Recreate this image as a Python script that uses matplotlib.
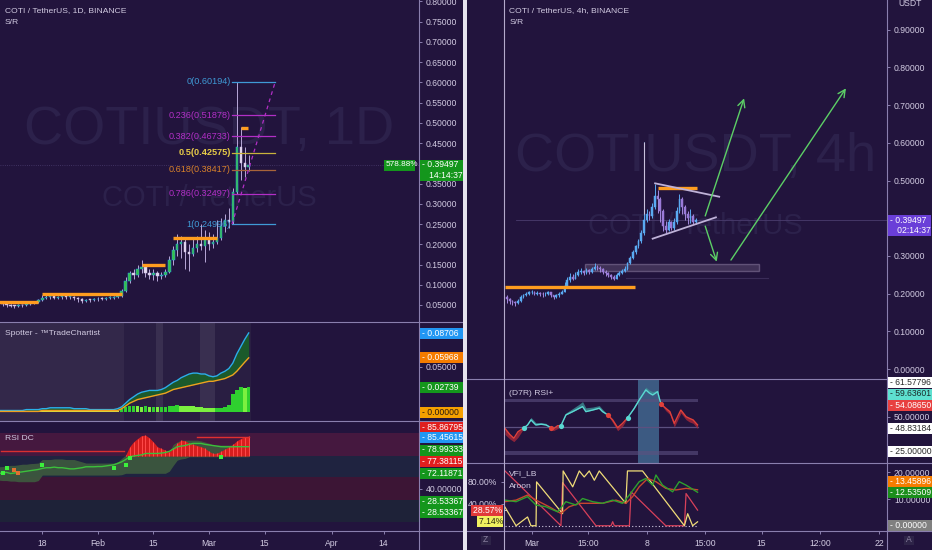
#!/usr/bin/env python3

import numpy as np
import matplotlib
matplotlib.use('Agg')
import matplotlib.pyplot as plt
from matplotlib.patches import Rectangle
from matplotlib.lines import Line2D

# ---------------------------------------------------------#
# Left chart: COTI / TetherUS, 1D  (x = day of year 2021)  #
# ---------------------------------------------------------#
days_1d = np.arange(6, 70)
open_first_1d = 0.058
close_1d = [0.055, 0.052, 0.050, 0.048, 0.047, 0.050, 0.049, 0.052, 0.055, 0.057, 0.062,
            0.068, 0.070, 0.072, 0.068, 0.070, 0.071, 0.069, 0.070, 0.068, 0.065,
            0.060, 0.063, 0.062, 0.064, 0.066, 0.065, 0.067, 0.068, 0.070, 0.072,
            0.085, 0.110, 0.130, 0.125, 0.140,
            0.145, 0.130, 0.125, 0.128, 0.122, 0.125, 0.132,
            0.160, 0.185, 0.200,
            0.205, 0.180, 0.175, 0.190, 0.200, 0.195, 0.210, 0.200, 0.205, 0.215,
            0.245, 0.260, 0.255, 0.330, 0.440, 0.400, 0.390, 0.395]
high_1d = [0.060, 0.057, 0.055, 0.052, 0.050, 0.053, 0.052, 0.055, 0.058, 0.060, 0.065,
           0.074, 0.075, 0.076, 0.074, 0.073, 0.074, 0.073, 0.073, 0.072, 0.070,
           0.067, 0.066, 0.066, 0.067, 0.069, 0.069, 0.070, 0.071, 0.073, 0.076,
           0.090, 0.118, 0.135, 0.138, 0.150,
           0.160, 0.150, 0.140, 0.138, 0.135, 0.132, 0.140,
           0.170, 0.195, 0.225,
           0.220, 0.215, 0.200, 0.215, 0.220, 0.250, 0.235, 0.230, 0.225, 0.260,
           0.265, 0.275, 0.290, 0.340, 0.602, 0.490, 0.440, 0.420]
low_1d = [0.050, 0.048, 0.045, 0.044, 0.043, 0.045, 0.046, 0.048, 0.051, 0.053, 0.056,
          0.060, 0.064, 0.066, 0.064, 0.065, 0.066, 0.065, 0.066, 0.062, 0.058,
          0.055, 0.057, 0.058, 0.060, 0.061, 0.062, 0.063, 0.064, 0.066, 0.068,
          0.070, 0.082, 0.105, 0.115, 0.120,
          0.130, 0.120, 0.115, 0.112, 0.110, 0.115, 0.118,
          0.128, 0.150, 0.170,
          0.165, 0.140, 0.135, 0.170, 0.180, 0.185, 0.155, 0.185, 0.190, 0.200,
          0.210, 0.230, 0.240, 0.250, 0.325, 0.360, 0.365, 0.380]

sr_1d = [(6, 16, 0.057), (17, 37, 0.0764), (42, 48, 0.149), (50, 61, 0.216), (67, 68.8, 0.487)]
fib_levels = ['0', '0.236', '0.382', '0.5', '0.618', '0.786', '1']
fib_prices = [0.60194, 0.51878, 0.46733, 0.42575, 0.38417, 0.32497, 0.24996]
fib_start, fib_end = 64.8, 75.7
last_price = 0.39497

date_ticks_1d = [17, 31, 45, 59, 73, 90, 103]
date_labels_1d = ['18', 'Feb', '15', 'Mar', '15', 'Apr', '14']

# Spotter - TradeChartist
spot_upper = [0.002, 0.002, 0.002, 0.002, 0.002, 0.002, 0.002, 0.003, 0.003, 0.003, 0.003,
              0.004, 0.004, 0.005, 0.005, 0.005, 0.005, 0.005, 0.005, 0.004, 0.004,
              0.004, 0.004, 0.003, 0.003, 0.003, 0.003, 0.003, 0.003, 0.003, 0.004,
              0.006, 0.010, 0.014, 0.017, 0.020,
              0.022, 0.023, 0.024, 0.024, 0.024, 0.025, 0.027,
              0.030, 0.033, 0.035,
              0.038, 0.040, 0.042, 0.043, 0.043, 0.042, 0.042, 0.040, 0.039, 0.040,
              0.043, 0.045, 0.048, 0.054, 0.064, 0.072, 0.080, 0.087]
spot_lower = [0.001, 0.001, 0.001, 0.001, 0.001, 0.001, 0.001, 0.001, 0.001, 0.001, 0.001,
              0.002, 0.002, 0.002, 0.002, 0.002, 0.002, 0.002, 0.002, 0.002, 0.002,
              0.002, 0.002, 0.002, 0.002, 0.002, 0.002, 0.002, 0.002, 0.002, 0.002,
              0.004, 0.007, 0.010, 0.012, 0.014,
              0.015, 0.016, 0.017, 0.018, 0.019, 0.020, 0.021,
              0.023, 0.025, 0.026,
              0.027, 0.028, 0.029, 0.030, 0.031, 0.032, 0.033, 0.034, 0.034, 0.035,
              0.036, 0.037, 0.039, 0.041, 0.045, 0.050, 0.055, 0.0597]
spot_hist = [0.001, 0.001, 0.001, 0.0015, 0.0015, 0.001, 0.001, 0.0015, 0.002, 0.002, 0.002,
             0.002, 0.002, 0.0025, 0.0025, 0.002, 0.002, 0.0015, 0.0015, 0.001, 0.001,
             0.001, 0.001, 0.001, 0.001, 0.001, 0.001, 0.001, 0.001, 0.0015, 0.0015,
             0.004, 0.006, 0.0065, 0.007, 0.0065,
             0.006, 0.0065, 0.006, 0.006, 0.0055, 0.0055, 0.006,
             0.0065, 0.007, 0.0075,
             0.0073, 0.007, 0.0068, 0.0065, 0.006, 0.0055, 0.005, 0.0045, 0.0044, 0.0045,
             0.005, 0.006, 0.008, 0.020, 0.025, 0.028, 0.027, 0.0274]
spot_spans = [(6.0, 37.6, '#33284a'), (37.6, 69.6, '#291e42'), (45.6, 47.5, '#392f50'), (56.7, 60.5, '#392f50')]

# RSI DC
rsi_dc_upper = [58.8, 59, 59.5, 60, 60, 60.5, 61, 61, 61.5, 61.7, 62,
                65, 65, 65, 65.5, 65.5, 65.5, 65, 65, 65, 64,
                63, 62, 62, 62, 62, 62, 62, 62, 62, 63,
                66, 68.8, 68.8, 68.8, 68.8,
                68.8, 68.8, 68.8, 68.8, 68.8, 68.8, 68.8,
                72, 78, 80.2,
                81.6, 81.6, 81.6, 81.6, 81.6, 81, 80, 79, 77.4, 77.4,
                77.4, 77.4, 77.4, 77.4, 77.4, 77.4, 77.4, 77.4]
rsi_dc_lower = [47.4, 47, 47, 46.5, 46.5, 46, 46, 46, 46, 46, 47,
                51.7, 51.7, 51.7, 51.7, 51.7, 51.7, 51.7, 51.7, 51.7, 51.7,
                51.7, 51.7, 51.7, 51.7, 51.7, 51.7, 51.7, 51.7, 51.7, 51.7,
                52, 53.2, 53.2, 53.2, 53.2,
                53.2, 53.2, 53.2, 53.2, 53.2, 53.2, 53.2,
                55, 60, 64.5,
                65.5, 66, 67.4, 67.4, 67.4, 67.4, 67.4, 67.4, 67.4, 67.4,
                67.4, 67.4, 67.4, 67.4, 67.4, 67.4, 67.4, 67.4]
rsi_dc_mid = [53, 53.5, 54, 53, 53.5, 54, 54.5, 55, 55.5, 56, 56.5,
              57.4, 58, 58, 58.5, 58, 58, 57.5, 57, 57, 57.5,
              58, 58.8, 58.8, 58.8, 59, 59, 59.5, 60, 60.5, 61.7,
              63, 65, 67.4, 68, 68.5,
              69, 70.2, 70.2, 70.2, 70.2, 70.5, 71,
              72, 74, 75.9,
              76.5, 77, 78, 78.8, 78.8, 78.8, 78, 77.5, 77, 76.5,
              76, 75.9, 75.9, 75.9, 76, 76, 76, 76]
rsi_dc_red_days = np.arange(38, 70)
rsi_dc_red = [68.8, 76, 80.2, 83, 85.5, 85.9, 83.5, 80, 76, 74.5, 73, 71.6, 75, 79, 81.6, 81,
              79, 78, 77, 76, 74.5, 72, 70.2, 70.5, 72, 74, 75.9, 78, 81, 83, 84.5, 85]
rsi_dc_green_pts = ([7, 8, 17, 35, 38, 39, 62], [53.4, 57.4, 60.3, 57.4, 60.3, 66, 67.4])
rsi_dc_orange_pts = ([10, 11], [56, 53.4])
rsi_dc_bands = [(68.0, 87.6, '#45183f'), (50.0, 68.0, '#1f2340'), (30.3, 50.0, '#3c1535'), (11.5, 30.3, '#1e2238')]

# ---------------------------------------------------------#
# Right chart: COTI / TetherUS, 4h  (x = 4h bars from Mar 1)#
# ---------------------------------------------------------#
bars_4h = np.arange(-9, 61)
open_first_4h = 0.190
close_4h = [0.185, 0.180, 0.178, 0.175,
            0.180, 0.190, 0.195, 0.200, 0.203,
            0.205, 0.200, 0.202, 0.200, 0.198, 0.200, 0.203, 0.195, 0.190, 0.195,
            0.200, 0.205, 0.220, 0.235,
            0.245, 0.240, 0.250, 0.258, 0.260, 0.255,
            0.262, 0.258, 0.265, 0.270, 0.268,
            0.265, 0.258, 0.255, 0.250, 0.245, 0.240, 0.250,
            0.255, 0.260, 0.265, 0.280,
            0.295, 0.310, 0.325, 0.340, 0.360,
            0.395, 0.410, 0.405, 0.430,
            0.460, 0.450, 0.420,
            0.380, 0.370, 0.390, 0.375, 0.390,
            0.420, 0.450, 0.430, 0.410,
            0.400, 0.405, 0.390, 0.395]
high_4h = [0.195, 0.188, 0.183, 0.180,
           0.185, 0.195, 0.200, 0.205, 0.208,
           0.210, 0.207, 0.206, 0.205, 0.203, 0.204, 0.207, 0.205, 0.196, 0.199,
           0.204, 0.210, 0.230, 0.245,
           0.255, 0.252, 0.258, 0.265, 0.268, 0.262,
           0.268, 0.266, 0.270, 0.280, 0.276,
           0.272, 0.268, 0.262, 0.258, 0.252, 0.250, 0.255,
           0.260, 0.265, 0.272, 0.285,
           0.300, 0.315, 0.330, 0.345, 0.368,
           0.603, 0.425, 0.420, 0.440,
           0.492, 0.475, 0.455,
           0.425, 0.392, 0.398, 0.392, 0.400,
           0.430, 0.465, 0.455, 0.435,
           0.420, 0.425, 0.410, 0.400]
low_4h = [0.175, 0.172, 0.170, 0.168,
          0.172, 0.178, 0.188, 0.193, 0.197,
          0.198, 0.196, 0.195, 0.194, 0.192, 0.194, 0.195, 0.190, 0.185, 0.188,
          0.192, 0.198, 0.203, 0.218,
          0.232, 0.235, 0.238, 0.248, 0.252, 0.250,
          0.252, 0.252, 0.255, 0.262, 0.262,
          0.258, 0.252, 0.248, 0.245, 0.238, 0.235, 0.238,
          0.248, 0.252, 0.258, 0.262,
          0.278, 0.292, 0.305, 0.322, 0.335,
          0.355, 0.390, 0.395, 0.400,
          0.425, 0.415, 0.390,
          0.365, 0.360, 0.365, 0.368, 0.370,
          0.385, 0.415, 0.412, 0.395,
          0.385, 0.388, 0.385, 0.385]

sr_4h = [(-9.75, 37.8, 0.2166), (46.2, 60.3, 0.481)]
tri_upper = ([45.1, 68.5], [0.4925, 0.457])
tri_lower = ([44.2, 67.3], [0.3457, 0.4023])
zone_4h = (19.5, 83.1, 0.2607, 0.2785)
arrows_4h = [((63.4, 0.406), (77.6, 0.718)),
             ((63.4, 0.379), (67.6, 0.2847)),
             ((72.8, 0.289), (114.8, 0.7445))]

date_ticks_4h = [0, 20.7, 42, 63.4, 84, 105.4, 127]
date_labels_4h = ['Mar', '15:00', '8', '15:00', '15', '12:00', '22']

# (D7R) RSI+
rsi_bars = [-9.75, -8, -6.5, -5, -2.7, -1.5, -0.25, 1.5, 3.5, 5.2, 7.05, 7.9, 9.5, 10.7, 12.5,
            15, 17.4, 18.6, 19.8, 22.3, 24.7, 25.9, 27.8, 29.6, 31.4, 33.2, 35.05, 37.5, 39.3,
            40.5, 41.7, 43, 44.2, 46, 47.2, 49, 50.5, 52.1, 53.9, 54.5, 56.4, 57.6, 59, 60.6]
rsi_vals = [42.1, 38, 35.4, 39.8, 42.6, 44.4, 47.8, 44.4, 44.9, 44.4, 42.6, 41.7, 43.9, 43.9, 51.2,
            53.4, 55.7, 56.8, 53.4, 54.5, 55.7, 53.4, 51.2, 47.8, 42.6, 45.5, 49.3, 55.7, 61.3,
            64.7, 68.1, 66.0, 64.7, 66.9, 58.6, 55.7, 53.4, 45.5, 52.3, 54.5, 50.0, 48.9, 47.8, 44.4]
rsi_ext = [38, 35, 33.1, 36, 42.6, 45.5, 49.5, 46, 46, 45.5, 42.6, 40.5, 42, 43.9, 52.5,
           55.5, 58.5, 60.2, 56, 56.5, 57.5, 55, 51.2, 46, 40.5, 43.5, 49.3, 57.5, 63,
           66.5, 70, 68, 67, 68, 58.6, 54, 51.5, 43, 50, 52.5, 48, 46.5, 45.5, 42]
rsi_turns = [-9.75, -2.7, 7.05, 10.7, 27.8, 35.05, 47.2, 60.6]
rsi_turn_up = [False, True, False, True, False, True, False]
rsi_highlight = (38.7, 46.6)

# VFI_LB / Aroon
aroon_up_x = [-9.75, -5.7, -1.5, -0.25, 1.6, 1.8, 11.3, 11.5, 15, 17.4, 19.2, 21.05, 22.9, 24.7,
              34.4, 35.0, 40.5, 55.8, 57.0, 58.8, 60.6]
aroon_up = [34, 0, 16, 0, 0, 80, 22, 100, 71, 100, 89, 100, 83, 100,
            40.7, 100, 100, 0, 22, 0, 7.14]
aroon_dn_x = [-9.75, 10.7, 11.3, 23.5, 29.0, 29.6, 30.2, 35.7, 36.3, 49.0, 55.8, 56.4, 60.6]
aroon_dn = [100, 0, 78.8, 0, 0, 7.3, 0, 0, 61.9, 0, 0, 58.8, 28.57]
vfi_x = [-9.75, -5.7, -1.5, 1.6, 5.2, 9.5, 12.5, 16.2, 18.6, 22.3, 25.9, 29.6, 33.2, 35.7,
         39.3, 41.7, 44.2, 45.4, 47.8, 51.5, 53.9, 56.4, 60.6]
vfi = [9.6, 9.0, 10.9, 7.75, 7.1, 5.2, 9.0, 7.75, 10.2, 9.0, 8.4, 9.6, 8.4, 11.5,
       16.5, 17.7, 15.2, 19.0, 15.2, 12.7, 16.5, 15.2, 12.54]
vfi_sig_x = [-9.75, -5.7, -1.5, 1.6, 6.4, 10.7, 13.7, 17.4, 22.3, 25.9, 30.8, 34.4, 36.9,
             39.3, 42.4, 45.4, 49.0, 52.7, 56.4, 60.6]
vfi_sig = [9.0, 9.6, 11.5, 9.6, 7.1, 4.6, 7.1, 8.4, 8.4, 8.4, 9.6, 8.4, 10.9,
           14.6, 17.7, 16.5, 14.0, 13.4, 14.0, 13.46]

# ---------------------------------------------------------#
# Styles                                                   #
# ---------------------------------------------------------#
W, H = 932, 550
bg = '#22143d'
sep = '#8a7fae'
txt = '#d2cbe2'
wm = '#2c214b'
green_box = '#14961c'
plt.rcParams['font.family'] = ['Liberation Sans', 'DejaVu Sans']
fs = 6.2
fs_title = 6.1

fig = plt.figure(figsize=(W / 100, H / 100), dpi=100, facecolor=bg)


def px_axes(x0, y0, x1, y1):
    ax = fig.add_axes([x0 / W, 1 - y1 / H, (x1 - x0) / W, (y1 - y0) / H])
    ax.set_facecolor(bg)
    for s in ax.spines.values():
        s.set_visible(False)
    ax.tick_params(colors=sep, labelcolor=txt, labelsize=fs, length=2.5, width=0.7, pad=2.5)
    ax.set_xticks([])
    return ax


def fig_line(x0, y0, x1, y1, color=sep, lw=0.8):
    fig.add_artist(Line2D([x0 / W, x1 / W], [1 - y0 / H, 1 - y1 / H], color=color, lw=lw, zorder=4))


def fig_box(x0, x1, yc, lines, fc, tc='white', h=11, size=fs):
    fig.patches.append(Rectangle((x0 / W, 1 - (yc + h / 2) / H), (x1 - x0) / W, h / H,
                                 transform=fig.transFigure, facecolor=fc, edgecolor='none', zorder=5))
    n = len(lines)
    for i, t in enumerate(lines):
        yy = yc - h / 2 + h * (i + 0.5) / n
        fig.text((x0 + 2) / W, 1 - yy / H, t, color=tc, fontsize=size, va='center', ha='left', zorder=6)


def candles(ax, x, first_open, c, hi, lo, up_fc, up_ec, dn_fc, dn_ec, wick_up, wick_dn, width):
    c = np.asarray(c)
    o = np.concatenate([[first_open], c[:-1]])
    hi = np.asarray(hi)
    lo = np.asarray(lo)
    up = c >= o
    ax.vlines(x[up], lo[up], hi[up], color=wick_up, lw=0.7, zorder=2)
    ax.vlines(x[~up], lo[~up], hi[~up], color=wick_dn, lw=0.7, zorder=2)
    bottom = np.minimum(o, c)
    height = np.maximum(np.abs(c - o), 0.002)
    ax.bar(x[up], height[up], width, bottom[up], color=up_fc, edgecolor=up_ec, lw=0.35, zorder=3)
    ax.bar(x[~up], height[~up], width, bottom[~up], color=dn_fc, edgecolor=dn_ec, lw=0.35, zorder=3)


# ---------------------------------------------------------#
# Left main chart                                          #
# ---------------------------------------------------------#
xlim_1d = (6.35, 111.9)
ax1 = px_axes(0, 0, 419, 322)
ax1.set_xlim(xlim_1d)
ax1.set_ylim(0.008, 0.8035)
ax1.yaxis.tick_right()
ax1.set_yticks(np.arange(0.05, 0.801, 0.05))
ax1.yaxis.set_major_formatter(matplotlib.ticker.FormatStrFormatter('%.5f'))
ax1.text(0.499, 0.596, 'COTIUSDT, 1D', transform=ax1.transAxes, ha='center', va='center',
         fontsize=39, color=wm, zorder=0.5)
ax1.text(0.499, 0.385, 'COTI / TetherUS', transform=ax1.transAxes, ha='center', va='center',
         fontsize=21, color=wm, zorder=0.5)
ax1.text(0.012, 0.966, 'COTI / TetherUS, 1D, BINANCE', transform=ax1.transAxes, color=txt,
         fontsize=fs_title, va='center')
ax1.text(0.012, 0.931, 'S/R', transform=ax1.transAxes, color=txt, fontsize=fs_title, va='center')
ax1.axhline(last_price, color='#4a3c6e', lw=0.6, ls=':', zorder=1)
candles(ax1, days_1d, open_first_1d, close_1d, high_1d, low_1d,
        '#36c048', '#2a9df4', '#e6dcf2', '#c8b8e0', '#b8a8d8', '#b8a8d8', 0.62)
for a, b, lvl in sr_1d:
    ax1.plot([a, b], [lvl, lvl], color='#ff9d1f', lw=2.4, solid_capstyle='butt', zorder=4)

fib_line_colors = ['#3f9ad6', '#b22fc6', '#b22fc6', '#c9b23c', '#a8643a', '#b22fc6', '#3f9ad6']
fib_text_colors = ['#3f9ad6', '#b22fc6', '#b22fc6', '#e8cc48', '#d9822b', '#b22fc6', '#3f9ad6']
for lv, pr, lc, tc in zip(fib_levels, fib_prices, fib_line_colors, fib_text_colors):
    ax1.plot([fib_start, fib_end], [pr, pr], color=lc, lw=0.9, zorder=5)
    ax1.text(fib_start - 0.3, pr, '%s(%.5f)' % (lv, pr), color=tc, fontsize=6.6, ha='right',
             va='center', zorder=6, fontweight='bold' if lv == '0.5' else 'normal')
ax1.plot([fib_start, fib_end], [fib_prices[-1], fib_prices[0]], color='#b22fc6', lw=0.9,
         ls=(0, (3, 3)), zorder=5)

# ---------------------------------------------------------#
# Spotter pane                                             #
# ---------------------------------------------------------#
ax2 = px_axes(0, 322, 419, 421)
ax2.set_xlim(xlim_1d)
ax2.set_ylim(-0.0095, 0.099)
ax2.yaxis.tick_right()
ax2.set_yticks([0.05])
ax2.yaxis.set_major_formatter(matplotlib.ticker.FormatStrFormatter('%.5f'))
for a, b, col in spot_spans:
    ax2.axvspan(a, b, color=col, lw=0, zorder=0)
su = np.asarray(spot_upper)
sl = np.asarray(spot_lower)
sh = np.asarray(spot_hist)
hist_cols = ['#d8e040' if d < 37 else ('#2fd02f' if i == 0 or sh[i] >= sh[i - 1] else '#7cf040')
             for i, d in enumerate(days_1d)]
ax2.bar(days_1d, sh, 0.9, color=hist_cols, lw=0, zorder=2)
ax2.fill_between(days_1d, sl, su, color='#1b5e2a', alpha=0.95, lw=0, zorder=1)
ax2.plot(days_1d, su, color='#2ab0e8', lw=1.0, zorder=3)
ax2.plot(days_1d, sl, color='#f0a020', lw=1.0, zorder=3)
ax2.text(0.012, 0.88, 'Spotter - \u2122TradeChartist', transform=ax2.transAxes, color=txt,
         fontsize=fs_title, va='center')

# ---------------------------------------------------------#
# RSI DC pane                                              #
# ---------------------------------------------------------#
ax3 = px_axes(0, 421, 419, 531)
ax3.set_xlim(xlim_1d)
ax3.set_ylim(3.8, 98)
ax3.yaxis.tick_right()
ax3.set_yticks([40])
ax3.yaxis.set_major_formatter(matplotlib.ticker.FormatStrFormatter('%.5f'))
for a, b, col in rsi_dc_bands:
    ax3.axhspan(a, b, color=col, lw=0, zorder=0)
ax3.fill_between(days_1d, rsi_dc_lower, rsi_dc_upper, color='#3e5a3e', alpha=0.9, lw=0, zorder=1)
ax3.fill_between(rsi_dc_red_days, 68.0, rsi_dc_red, color='#d81e1e', lw=0, zorder=2)
ax3.vlines(rsi_dc_red_days, 68.0, rsi_dc_red, color='#ff4a4a', lw=0.7, zorder=2)
ax3.plot(days_1d, rsi_dc_mid, color='#3cc03c', lw=1.0, zorder=3)
ax3.plot([6.5, 37.5], [72.2, 72.2], color='#d83030', lw=1.0, zorder=3)
ax3.plot([56, 69], [84.4, 84.4], color='#e03030', lw=1.0, zorder=3)
ax3.scatter(*rsi_dc_green_pts, marker='s', s=5, color='#3cf03c', lw=0, zorder=4)
ax3.scatter(*rsi_dc_orange_pts, marker='s', s=5, color='#e07030', lw=0, zorder=4)
ax3.text(0.012, 0.84, 'RSI DC', transform=ax3.transAxes, color=txt, fontsize=fs_title, va='center')
ax3.set_xticks(date_ticks_1d)
ax3.set_xticklabels(date_labels_1d)
ax3.tick_params(axis='x', colors=sep, labelcolor=txt, labelsize=fs, length=2.5, pad=3)

# ---------------------------------------------------------#
# Right main chart                                         #
# ---------------------------------------------------------#
xlim_4h = (-10.1, 129.8)
ax4 = px_axes(504, 0, 887, 379)
ax4.set_xlim(xlim_4h)
ax4.set_ylim(-0.0265, 0.9788)
ax4.yaxis.tick_right()
ax4.set_yticks(np.arange(0.0, 0.91, 0.1))
ax4.yaxis.set_major_formatter(matplotlib.ticker.FormatStrFormatter('%.5f'))
ax4.text(0.501, 0.586, 'COTIUSDT, 4h', transform=ax4.transAxes, ha='center', va='center',
         fontsize=39, color=wm, zorder=0.5)
ax4.text(0.499, 0.404, 'COTI / TetherUS', transform=ax4.transAxes, ha='center', va='center',
         fontsize=21, color=wm, zorder=0.5)
ax4.text(0.014, 0.971, 'COTI / TetherUS, 4h, BINANCE', transform=ax4.transAxes, color=txt,
         fontsize=fs_title, va='center')
ax4.text(0.014, 0.941, 'S/R', transform=ax4.transAxes, color=txt, fontsize=fs_title, va='center')
ax4.plot([-5.7, xlim_4h[1]], [last_price, last_price], color='#4a3c6e', lw=0.6, zorder=1)
zx0, zx1, zy0, zy1 = zone_4h
ax4.add_patch(Rectangle((zx0, zy0), zx1 - zx0, zy1 - zy0, facecolor='#5a4a6e', alpha=0.55,
                        edgecolor='#8a7a9e', lw=1.0, zorder=1.5))
ax4.plot([34.5, 86.4], [0.241, 0.241], color='#3a2c58', lw=0.8, zorder=1)
candles(ax4, bars_4h, open_first_4h, close_4h, high_4h, low_4h,
        '#5aaaf2', '#5aaaf2', '#9a7ad8', '#9a7ad8', '#5aaaf2', '#a58ade', 0.6)
ax4.vlines(41, 0.41, 0.603, color='#c8c0dc', lw=0.8, zorder=2.5)
for a, b, lvl in sr_4h:
    ax4.plot([a, b], [lvl, lvl], color='#ff9d1f', lw=2.4, solid_capstyle='butt', zorder=4)
ax4.plot(*tri_upper, color='#bfb2d8', lw=1.3, zorder=4)
ax4.plot(*tri_lower, color='#bfb2d8', lw=1.3, zorder=4)
for st, en in arrows_4h:
    ax4.annotate('', xy=en, xytext=st, zorder=5,
                 arrowprops=dict(arrowstyle='->', color='#5ccf66', lw=1.0, mutation_scale=13,
                                 shrinkA=0, shrinkB=0))

# ---------------------------------------------------------#
# RSI+ pane                                                #
# ---------------------------------------------------------#
ax5 = px_axes(504, 379, 887, 463)
ax5.set_xlim(xlim_4h)
ax5.set_ylim(18.65, 75.5)
ax5.yaxis.tick_right()
ax5.set_yticks([50])
ax5.yaxis.set_major_formatter(matplotlib.ticker.FormatStrFormatter('%.5f'))
ax5.axvspan(*rsi_highlight, color='#45729a', alpha=0.75, lw=0, zorder=0)
ax5.fill_between([-9.75, 60.6], 59.7, 62, color='#5c5080', alpha=0.6, lw=0, zorder=0.5)
ax5.fill_between([-9.75, 60.6], 24.1, 26.8, color='#5c5080', alpha=0.6, lw=0, zorder=0.5)
ax5.plot([-9.75, 60.6], [43.2, 43.2], color='#5c5080', lw=0.9, zorder=0.5)
rb = np.asarray(rsi_bars)
rv = np.asarray(rsi_vals)
re = np.asarray(rsi_ext)
for i, upseg in enumerate(rsi_turn_up):
    m = (rb >= rsi_turns[i]) & (rb <= rsi_turns[i + 1])
    col = '#5ad8d2' if upseg else '#e0403a'
    fcol = '#3e8e95' if upseg else '#a8283a'
    ax5.fill_between(rb[m], rv[m], re[m], color=fcol, alpha=0.8, lw=0, zorder=1)
    ax5.plot(rb[m], rv[m], color=col, lw=1.0, zorder=2)
    if i > 0:
        ax5.scatter([rb[m][0]], [rv[m][0]], s=14, color=col, zorder=3, lw=0)
ax5.text(0.014, 0.83, '(D7R) RSI+', transform=ax5.transAxes, color=txt, fontsize=fs_title, va='center')

# ---------------------------------------------------------#
# VFI / Aroon pane                                         #
# ---------------------------------------------------------#
ax6 = px_axes(504, 463, 887, 531)
ax6.set_xlim(xlim_4h)
ax6.set_ylim(-9.6, 114.5)
ax6.set_yticks([40, 80])
ax6.yaxis.set_major_formatter(matplotlib.ticker.FormatStrFormatter('%.2f%%'))
ax6.plot([-9.75, 60.6], [0, 0], color='#d0c8e0', lw=0.8, ls=(0, (1, 2)), zorder=1)
ax6.plot(aroon_dn_x, aroon_dn, color='#d8405a', lw=0.9, zorder=2)
ax6.plot(aroon_up_x, aroon_up, color='#f0dc78', lw=0.9, zorder=3)
ax6.set_xticks(date_ticks_4h)
ax6.set_xticklabels(date_labels_4h)
ax6.tick_params(axis='x', colors=sep, labelcolor=txt, labelsize=fs, length=2.5, pad=3)
ax6.text(0.014, 0.84, 'VFI_LB', transform=ax6.transAxes, color=txt, fontsize=fs_title, va='center')
ax6.text(0.014, 0.66, 'Aroon', transform=ax6.transAxes, color=txt, fontsize=fs_title, va='center')
ax7 = ax6.twinx()
for s in ax7.spines.values():
    s.set_visible(False)
ax7.set_ylim(-1.98, 23.5)
ax7.set_yticks([10, 20])
ax7.yaxis.set_major_formatter(matplotlib.ticker.FormatStrFormatter('%.5f'))
ax7.tick_params(colors=sep, labelcolor=txt, labelsize=fs, length=2.5, width=0.7, pad=2.5)
ax7.plot(vfi_sig_x, vfi_sig, color='#c8462e', lw=1.0, zorder=2)
ax7.plot(vfi_x, vfi, color='#2ea02e', lw=1.0, zorder=3)

# ---------------------------------------------------------#
# Frame lines, divider and value boxes                     #
# ---------------------------------------------------------#
fig.patches.append(Rectangle((463 / W, 0), 4 / W, 1, transform=fig.transFigure,
                             facecolor='#e6e3ee', edgecolor='none', zorder=7))
for y in (322, 421, 531):
    fig_line(0, y, 463, y)
for y in (379, 463, 531):
    fig_line(467, y, 932, y)
fig_line(419, 0, 419, 550)
fig_line(504, 0, 504, 550, color='#b4aacc')
fig_line(887, 0, 887, 550)

fig.text(898 / W, 1 - 4 / H, 'USDT', color=txt, fontsize=fs, va='center')

fig_box(384, 415, 165, ['578.88%'], green_box, size=5.9)
fig_box(420, 463, 170, ['- 0.39497', '   14:14:37'], green_box, h=21)
fig_box(420, 463, 333, ['- 0.08706'], '#2196f3')
fig_box(420, 463, 357.7, ['- 0.05968'], '#f57c00')
fig_box(420, 463, 387.3, ['- 0.02739'], green_box)
fig_box(420, 463, 412.3, ['- 0.00000'], '#f5a000', tc='#2a1a10')
fig_box(420, 463, 427.3, ['- 85.86795'], '#e01e1e')
fig_box(420, 463, 437.7, ['- 85.45615'], '#2196f3')
fig_box(420, 463, 450, ['- 78.99333'], green_box)
fig_box(420, 463, 461, ['- 77.38115'], '#e01e1e')
fig_box(420, 463, 473.3, ['- 72.11871'], green_box)
fig_box(420, 463, 501.7, ['- 28.53367'], green_box)
fig_box(420, 463, 512.7, ['- 28.53367'], green_box)

fig_box(888, 931, 225.5, ['- 0.39497', '   02:14:37'], '#6a3fd8', h=21)
fig_box(888, 932, 382.3, ['- 61.57796'], '#ffffff', tc='#2a2a2a')
fig_box(888, 932, 394, ['- 59.63601'], '#5ee0d0', tc='#1a2a2a')
fig_box(888, 932, 405, ['- 54.08650'], '#e84040')
fig_box(888, 932, 428.3, ['- 48.83184'], '#ffffff', tc='#2a2a2a')
fig_box(888, 932, 451, ['- 25.00000'], '#ffffff', tc='#2a2a2a')
fig_box(888, 932, 481.7, ['- 13.45896'], '#f57c00')
fig_box(888, 932, 492.3, ['- 12.53509'], '#1b8e1b')
fig_box(888, 932, 525.7, ['- 0.00000'], '#808080')
fig_box(471, 503, 510.3, ['28.57% -'], '#e03a3a')
fig_box(477, 503, 521.7, ['7.14% -'], '#f0f060', tc='#2a2a10')

fig_box(481, 491, 540, ['Z'], '#2e2448', tc='#8a80a0', h=9)
fig_box(904, 914, 540, ['A'], '#2e2448', tc='#8a80a0', h=9)

fig.savefig('out.png', dpi=100, facecolor=bg)
